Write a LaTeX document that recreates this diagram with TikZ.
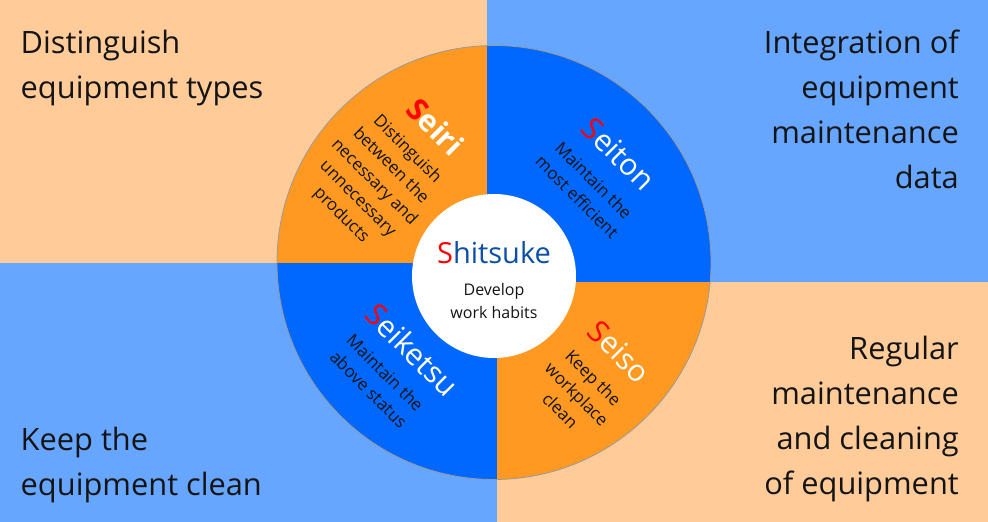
\documentclass[tikz,border=0pt]{standalone}
\usepackage{fontspec}
\setmainfont{Open Sans}
\definecolor{lorange}{RGB}{255,204,153}
\definecolor{lblue}{RGB}{102,166,255}
\definecolor{sorange}{RGB}{255,153,34}
\definecolor{sblue}{RGB}{0,104,255}
\definecolor{dblue}{RGB}{12,80,165}
\definecolor{sred}{RGB}{255,0,0}
\definecolor{txt}{RGB}{20,20,20}
\newcommand\redS{\textcolor{sred}{S}}
\begin{document}
\begin{tikzpicture}[x=1pt,y=-1pt,
  corner/.style={inner sep=0pt, font=\fontsize{30.8}{45}\selectfont, text=txt},
  sectitle/.style={inner sep=0pt, font=\fontsize{30}{36}\selectfont, text=white, transform shape},
  secdesc/.style={inner sep=0pt, align=center, font=\fontsize{17}{23.3}\selectfont, text=txt, transform shape}]
\useasboundingbox (0,0) rectangle (988,522);
% background quadrants
\fill[lorange] (0,0) rectangle (487,263);
\fill[lblue] (487,0) rectangle (988,282);
\fill[lblue] (0,263) rectangle (497,522);
\fill[lorange] (497,282) rectangle (988,522);
% sectors
\begin{scope}\clip (0,0) rectangle (487,263);
  \fill[sorange] (494,262.5) circle[radius=217pt];\end{scope}
\begin{scope}\clip (487,0) rectangle (988,282);
  \fill[sblue] (494,262.5) circle[radius=217pt];\end{scope}
\begin{scope}\clip (0,263) rectangle (497,522);
  \fill[sblue] (494,262.5) circle[radius=217pt];\end{scope}
\begin{scope}\clip (497,282) rectangle (988,522);
  \fill[sorange] (494,262.5) circle[radius=217pt];\end{scope}
\draw[gray!80, line width=0.8pt] (494,262.5) circle[radius=217pt];
\fill[white] (494,276) circle[radius=82pt];
% corner texts
\node[corner, anchor=north west, align=left] (tl) at (20.5,21.3) {\strut Distinguish\\\strut equipment types};
\node[corner, anchor=north east, align=right] (tr) at (959,21.3) {\strut Integration of\\\strut equipment\\\strut maintenance\\\strut data};
\node[corner, anchor=north east, align=right] (br) at (959,328) {\strut Regular\\\strut maintenance\\\strut and cleaning\\\strut of equipment};
\node[corner, anchor=north west, align=left] (bl) at (20.5,418.5) {\strut Keep the\\\strut equipment clean};
% center
\node[inner sep=0pt, font=\fontsize{29}{34}\selectfont, text=dblue] (shitsuke) at (494,252.5) {\redS hitsuke};
\node[inner sep=0pt, align=center, font=\fontsize{16}{23.3}\selectfont, text=txt] (shitsukedesc) at (494,301) {Develop\\work habits};
% Seiri
\begin{scope}[shift={(374,182.5)}, rotate=-45]
  \node[secdesc] (seiridesc) at (0,0) {Distinguish\\between the\\necessary and\\unnecessary\\products};
  \node[sectitle, font=\fontsize{30}{36}\selectfont\bfseries] (seiri) at (4,-83) {\redS eiri};
\end{scope}
% Seiton
\begin{scope}[shift={(585.5,188.5)}, rotate=-45]
  \node[secdesc] (seitondesc) at (0,0) {Maintain the\\most efficient};
  \node[sectitle] (seiton) at (-1,-48) {\redS eiton};
\end{scope}
% Seiketsu
\begin{scope}[shift={(377,381)}, rotate=-45]
  \node[secdesc] (seiketsudesc) at (0,0) {Maintain the\\above status};
  \node[sectitle] (seiketsu) at (3,-47) {\redS eiketsu};
\end{scope}
% Seiso
\begin{scope}[shift={(577,394)}, rotate=-45]
  \node[secdesc] (seisodesc) at (0,0) {Keep the\\workplace\\clean};
  \node[sectitle] (seiso) at (0,-60) {\redS eiso};
\end{scope}
\end{tikzpicture}
\end{document}
